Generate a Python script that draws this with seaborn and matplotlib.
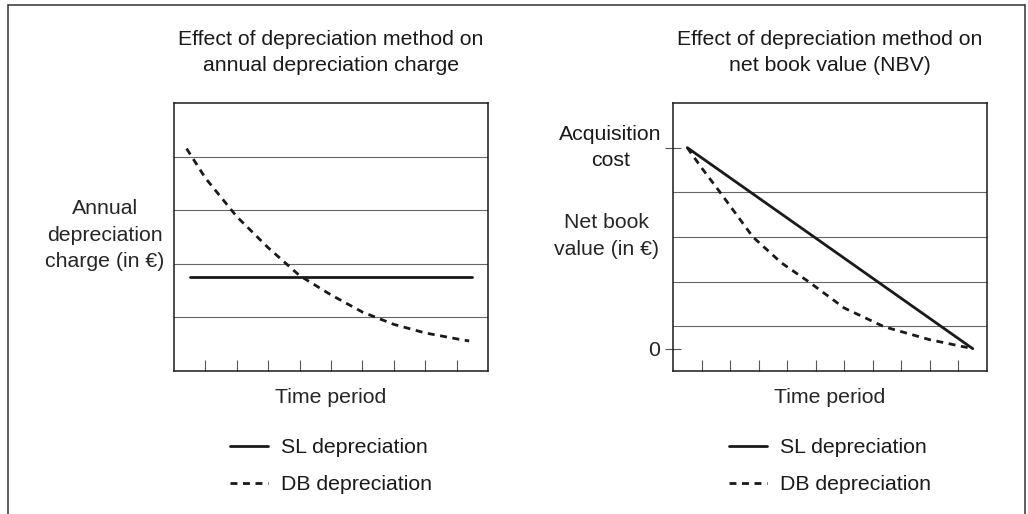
import matplotlib
matplotlib.use("Agg")
import matplotlib.pyplot as plt
import seaborn as sns
from matplotlib.lines import Line2D

# data (arbitrary units)
left_sl_x = [0.5, 9.5]
left_sl_y = [1.75, 1.75]
left_db_x = [0.4, 1, 2, 3, 4, 5, 6, 7, 8, 9, 9.4]
left_db_y = [4.15, 3.6, 2.88, 2.3, 1.78, 1.42, 1.1, 0.87, 0.71, 0.6, 0.56]

right_sl_x = [0.5, 10.5]
right_sl_y = [4.5, 0.0]
right_db_x = [0.5, 1.0, 1.65, 2.8, 3.8, 4.75, 6.0, 7.4, 9.0, 10.5]
right_db_y = [4.5, 4.05, 3.5, 2.5, 1.92, 1.5, 0.91, 0.49, 0.2, 0.0]

titles = ["Effect of depreciation method on\nannual depreciation charge",
          "Effect of depreciation method on\nnet book value (NBV)"]
ylabels = ["Annual\ndepreciation\ncharge (in €)", "Net book\nvalue (in €)"]
legend_labels = ["SL depreciation", "DB depreciation"]

sns.set_style("white")
plt.rcParams["font.family"] = ["Liberation Sans", "DejaVu Sans"]
plt.rcParams["text.color"] = "#1a1a1a"
FS = 15.3
LS = 1.5
DASH = (0, (2.5, 2))

fig = plt.figure(figsize=(10.28, 5.14), dpi=100)
ax1 = fig.add_axes([174 / 1028, 1 - 371 / 514, 314 / 1028, 268 / 514])
ax2 = fig.add_axes([673 / 1028, 1 - 371 / 514, 314 / 1028, 268 / 514])

# left panel
sns.lineplot(x=left_sl_x, y=left_sl_y, ax=ax1, color="#1a1a1a", lw=2.0,
             label=legend_labels[0])
sns.lineplot(x=left_db_x, y=left_db_y, ax=ax1, color="#1a1a1a", lw=2.0,
             linestyle=DASH, label=legend_labels[1])
ax1.set_xlim(0, 10)
ax1.set_ylim(0, 5)
ax1.set_xticks(range(1, 10))
ax1.set_yticks([])
ax1.set_yticks([1, 2, 3, 4], minor=True)

# right panel
sns.lineplot(x=right_sl_x, y=right_sl_y, ax=ax2, color="#1a1a1a", lw=2.0,
             label=legend_labels[0])
sns.lineplot(x=right_db_x, y=right_db_y, ax=ax2, color="#1a1a1a", lw=2.0,
             linestyle=DASH, label=legend_labels[1])
ax2.set_xlim(0, 11)
ax2.set_ylim(-0.5, 5.5)
ax2.set_xticks(range(1, 11))
ax2.set_yticks([0, 4.5], ["0", ""])
ax2.set_yticks([0.5, 1.5, 2.5, 3.5, 4.5], minor=True)
ax2.tick_params(axis="y", which="major", left=True, direction="inout",
                length=11, width=0.8, color="#555555", pad=4, labelsize=FS)
ax2.text(-0.2, 4.5, "Acquisition\ncost", transform=ax2.get_yaxis_transform(),
         ha="center", va="center", fontsize=FS, linespacing=LS)

for ax, title, ylab in zip([ax1, ax2], titles, ylabels):
    ax.set_title(title, fontsize=FS, pad=23, linespacing=LS)
    ax.set_xticklabels([])
    ax.tick_params(axis="x", direction="in", length=8, width=0.8,
                   color="#555555", bottom=True)
    ax.tick_params(axis="y", which="minor", length=0)
    ax.grid(which="minor", axis="y", color="#666666", lw=0.8)
    ax.grid(which="major", visible=False)
    for sp in ax.spines.values():
        sp.set_color("#1a1a1a")
        sp.set_linewidth(1.1)
    ax.set_xlabel("Time period", fontsize=FS, labelpad=9)
    ax.set_ylabel(ylab, fontsize=FS, rotation=0, ha="center", va="center",
                  linespacing=LS)
    ax.legend(loc="center left", bbox_to_anchor=(0.178, -0.355), frameon=False,
              fontsize=FS, handlelength=1.8, handletextpad=0.6,
              labelspacing=0.85, borderpad=0, borderaxespad=0)

ax1.yaxis.set_label_coords(-0.22, 0.507)
ax2.yaxis.set_label_coords(-0.213, 0.504)

# outer frame (left, top, right)
frame_kw = dict(color="#333333", lw=1.1, transform=fig.transFigure)
fig.add_artist(Line2D([8 / 1028, 8 / 1028], [0, 1 - 5 / 514], **frame_kw))
fig.add_artist(Line2D([8 / 1028, 1025 / 1028], [1 - 5 / 514, 1 - 5 / 514], **frame_kw))
fig.add_artist(Line2D([1025 / 1028, 1025 / 1028], [0, 1 - 5 / 514], **frame_kw))

fig.savefig("out.png", dpi=100)
